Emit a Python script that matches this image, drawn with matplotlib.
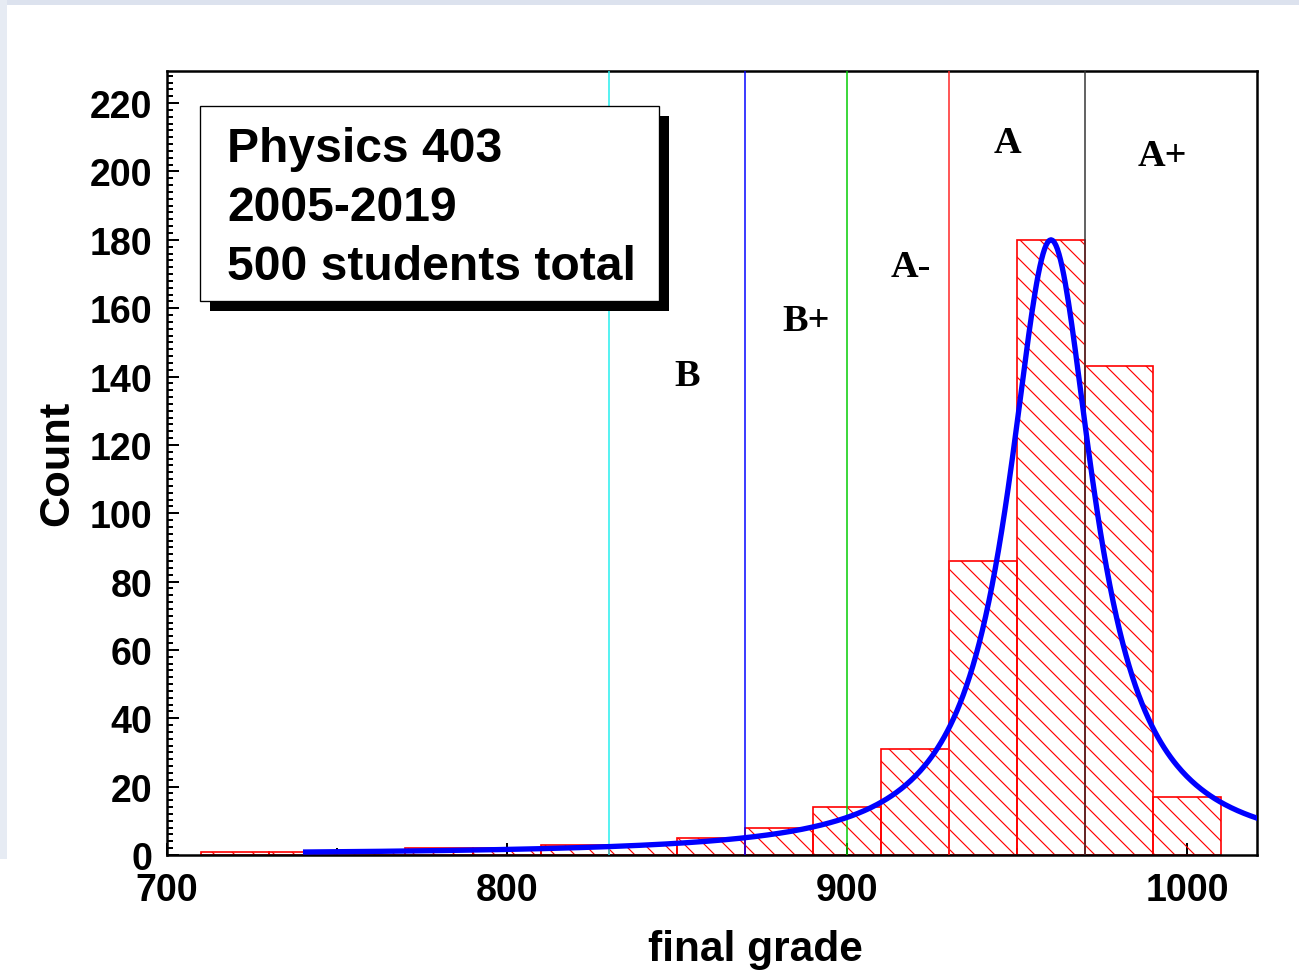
import numpy as np
import matplotlib
matplotlib.use("Agg")
import matplotlib.pyplot as plt
from matplotlib.patches import Rectangle
from matplotlib.ticker import MultipleLocator, FixedLocator

# ---------------- data ----------------
bin_low_edges = [710, 730, 750, 770, 790, 810, 830, 850, 870, 890, 910, 930, 950, 970, 990]
counts = [1, 1, 1, 2, 2, 3, 3, 5, 8, 14, 31, 86, 180, 143, 17]
bin_width = 20

# Breit-Wigner (Lorentzian) fit parameters
fit_peak = 180.0
fit_center = 960.0
fit_halfwidth = 15.3
fit_range = (740.0, 1021.0)

# grade cut lines
cut_values = [830, 870, 900, 930, 970]
cut_colors = ["#22eeee", "#0000ff", "#00cc00", "#ff2222", "#333333"]

grade_labels = ["B", "B+", "A-", "A", "A+"]
grade_label_x = [852.9, 887.9, 918.8, 947.1, 992.9]
grade_label_y = [137.5, 153.6, 169.3, 205.7, 201.9]

x_ticks = [700, 800, 900, 1000]
y_ticks = list(range(0, 221, 20))

info_lines = ["Physics 403", "2005-2019", "500 students total"]

# ---------------- figure ----------------
DPI = 120
W, H = 1299, 973
fig = plt.figure(figsize=(W / DPI, H / DPI), dpi=DPI)
fig.patch.set_facecolor("white")

def px(x, y):
    return x / W, 1 - y / H

# slide-like border bands
fig.patches.append(Rectangle((0, 1 - 6 / H), 1, 6 / H, transform=fig.transFigure,
                             facecolor="#dce2ee", edgecolor="none", zorder=0))
fig.patches.append(Rectangle((0, 1 - 860 / H), 7 / W, 860 / H, transform=fig.transFigure,
                             facecolor="#e6ebf3", edgecolor="none", zorder=0))

L, R, T, B = 167, 1257, 72, 856
ax = fig.add_axes([L / W, 1 - B / H, (R - L) / W, (B - T) / H])

plt.rcParams["hatch.linewidth"] = 0.7
plt.rcParams["hatch.color"] = "red"

ax.bar(bin_low_edges, counts, width=bin_width, align="edge", facecolor="none",
       edgecolor="red", hatch="\\\\", linewidth=1.0, zorder=2)

xf = np.linspace(fit_range[0], fit_range[1], 600)
yf = fit_peak / (1 + ((xf - fit_center) / fit_halfwidth) ** 2)
ax.plot(xf, yf, color="#0000ff", lw=3.2, zorder=4, solid_capstyle="butt")

for v, c in zip(cut_values, cut_colors):
    ax.axvline(v, color=c, lw=0.9, zorder=3)

for lab, gx, gy in zip(grade_labels, grade_label_x, grade_label_y):
    ax.text(gx, gy, lab, family="Liberation Serif", weight="bold", fontsize=23,
            ha="center", va="baseline", zorder=5)

ax.set_xlim(700, 1020.6)
ax.set_ylim(0, 229.4)

ax.xaxis.set_major_locator(FixedLocator(x_ticks))
ax.xaxis.set_minor_locator(MultipleLocator(50))
ax.yaxis.set_major_locator(FixedLocator(y_ticks))
ax.yaxis.set_minor_locator(MultipleLocator(2))
ax.set_xticklabels([str(t) for t in x_ticks])
ax.set_yticklabels([str(t) for t in y_ticks])

ax.tick_params(axis="both", which="both", direction="in", top=False, right=False, width=1.2)
ax.tick_params(axis="both", which="major", length=7)
ax.tick_params(axis="x", which="minor", length=4)
ax.tick_params(axis="y", which="minor", length=3.5)
ax.tick_params(axis="y", which="major", pad=9)
ax.tick_params(axis="x", which="major", pad=10)
for lab in ax.get_xticklabels() + ax.get_yticklabels():
    lab.set_family("Liberation Sans")
    lab.set_weight("bold")
    lab.set_fontsize(22.5)

for s in ax.spines.values():
    s.set_linewidth(1.5)
    s.set_color("black")

# axis titles
fig.text(*px(57, 463), "Count", rotation=90, ha="center", va="center",
         family="Liberation Sans", weight="bold", fontsize=26)
fig.text(*px(755, 950), "final grade", ha="center", va="center",
         family="Liberation Sans", weight="bold", fontsize=25.5)

# info box with shadow
bx0, by0, bx1, by1 = 200, 107, 659, 302
sh = 10
fig.patches.append(Rectangle(px(bx0 + sh, by1 + sh), (bx1 - bx0) / W, (by1 - by0) / H,
                             transform=fig.transFigure, facecolor="black", edgecolor="none", zorder=6))
fig.patches.append(Rectangle(px(bx0, by1), (bx1 - bx0) / W, (by1 - by0) / H,
                             transform=fig.transFigure, facecolor="white", edgecolor="black",
                             linewidth=0.8, zorder=7))
for i, line in enumerate(info_lines):
    t = fig.text(*px(227, 162 + 59 * i), line, ha="left", va="baseline",
                 family="Liberation Sans", weight="bold", fontsize=28.8)
    t.set_zorder(8)

fig.savefig("out.png", dpi=DPI)
